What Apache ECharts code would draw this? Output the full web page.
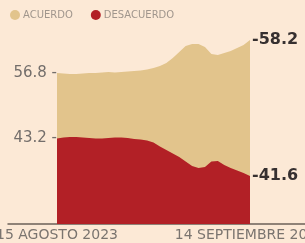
<!DOCTYPE html>
<html><head><meta charset="utf-8">
<script src="https://cdn.jsdelivr.net/npm/echarts@6/dist/echarts.min.js"></script>
<style>html,body{margin:0;padding:0;background:#fce9d6;}#c{width:305px;height:243px;}</style>
</head><body><div id="c"></div>
<script>
const dates = ['15 AGOSTO 2023','16 AGOSTO 2023','17 AGOSTO 2023','18 AGOSTO 2023','19 AGOSTO 2023','20 AGOSTO 2023','21 AGOSTO 2023','22 AGOSTO 2023','23 AGOSTO 2023','24 AGOSTO 2023','25 AGOSTO 2023','26 AGOSTO 2023','27 AGOSTO 2023','28 AGOSTO 2023','29 AGOSTO 2023','30 AGOSTO 2023','31 AGOSTO 2023','1 SEPTIEMBRE 2023','2 SEPTIEMBRE 2023','3 SEPTIEMBRE 2023','4 SEPTIEMBRE 2023','5 SEPTIEMBRE 2023','6 SEPTIEMBRE 2023','7 SEPTIEMBRE 2023','8 SEPTIEMBRE 2023','9 SEPTIEMBRE 2023','10 SEPTIEMBRE 2023','11 SEPTIEMBRE 2023','12 SEPTIEMBRE 2023','13 SEPTIEMBRE 2023','14 SEPTIEMBRE 2023'];
const acuerdo = [56.80,56.78,56.76,56.76,56.78,56.80,56.80,56.82,56.84,56.82,56.84,56.86,56.89,56.91,56.95,57.01,57.10,57.23,57.44,57.69,57.95,58.03,58.03,57.91,57.61,57.57,57.65,57.74,57.86,57.99,58.20];
const desacuerdo = [43.20,43.24,43.26,43.26,43.24,43.22,43.20,43.20,43.22,43.24,43.24,43.22,43.18,43.16,43.12,43.03,42.86,42.71,42.56,42.41,42.22,42.03,41.95,41.99,42.22,42.24,42.07,41.95,41.84,41.73,41.60];
const seriesNames = ['ACUERDO','DESACUERDO'];
const tickDays = [0, dates.length - 1];

function mk(vals){ return vals.map((v,i)=>[i,v]); }
function startLabel(p){ return p.dataIndex === 0 ? p.value[1].toFixed(1) + ' -' : ''; }

const chart = echarts.init(document.getElementById('c'), null, {renderer:'canvas'});
chart.setOption({
  animation:false,
  backgroundColor:'#fce9d6',
  legend:{
    left:5, top:5, icon:'circle', itemWidth:10, itemHeight:10, itemGap:18,
    textStyle:{fontSize:10, color:'#a0968d', fontFamily:'DejaVu Sans', padding:[0,0,0,-2]},
    data:seriesNames
  },
  grid:{left:8, right:0, top:20, bottom:19, containLabel:false, outerBoundsMode:'none'},
  xAxis:{
    type:'value', min:-7.617, max:38.55,
    splitLine:{show:false},
    axisLine:{show:true, lineStyle:{color:'#6b6058', width:1.5}},
    axisTick:{show:false},
    axisLabel:{customValues:tickDays, formatter:v=>dates[Math.round(v)]||'', margin:4,
      fontSize:14, color:'#7a746f', fontFamily:'DejaVu Sans'}
  },
  yAxis:[
    {type:'value', min:50.374, max:59.055, show:false},
    {type:'value', min:39.562, max:48.243, show:false}
  ],
  series:[
    {name:seriesNames[0], type:'line', yAxisIndex:0, data:mk(acuerdo), color:'#e2c48c',
     symbol:'circle', symbolSize:0, showSymbol:true, showAllSymbol:true,
     lineStyle:{width:0}, areaStyle:{color:'#e2c48c', opacity:1, origin:'start'},
     label:{show:true, position:'left', distance:0, formatter:startLabel, fontSize:15, color:'#736e6b', fontFamily:'DejaVu Sans'},
     endLabel:{show:true, formatter:p=>'-'+p.value[1].toFixed(1), distance:2, fontSize:16, fontWeight:'bold', color:'#363030', fontFamily:'DejaVu Sans'},
     z:2},
    {name:seriesNames[1], type:'line', yAxisIndex:1, data:mk(desacuerdo), color:'#b22026',
     symbol:'circle', symbolSize:0, showSymbol:true, showAllSymbol:true,
     lineStyle:{width:0}, areaStyle:{color:'#b22026', opacity:1, origin:'start'},
     label:{show:true, position:'left', distance:0, formatter:startLabel, fontSize:15, color:'#736e6b', fontFamily:'DejaVu Sans'},
     endLabel:{show:true, formatter:p=>'-'+p.value[1].toFixed(1), distance:2, fontSize:16, fontWeight:'bold', color:'#363030', fontFamily:'DejaVu Sans'},
     z:3}
  ]
});
</script></body></html>
